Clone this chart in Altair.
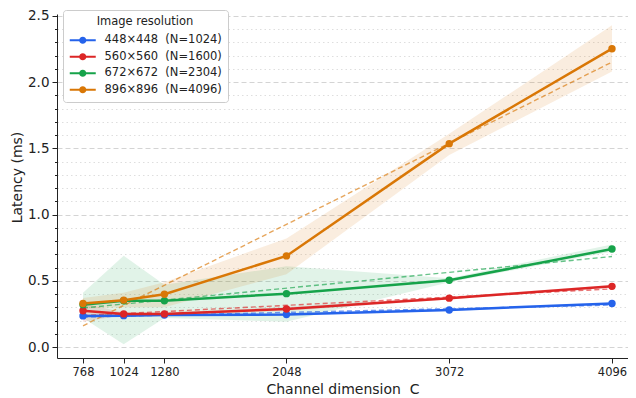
import altair as alt
import pandas as pd

# ---- data ----
channels = [768, 1024, 1280, 2048, 3072, 4096]
resolutions = [
    "448×448\u00a0\u00a0(N=1024)",
    "560×560\u00a0\u00a0(N=1600)",
    "672×672\u00a0\u00a0(N=2304)",
    "896×896\u00a0\u00a0(N=4096)",
]
lat_448 = [0.235, 0.237, 0.242, 0.245, 0.280, 0.329]
lat_560 = [0.274, 0.250, 0.250, 0.287, 0.369, 0.458]
lat_672 = [0.320, 0.350, 0.349, 0.403, 0.504, 0.740]
lat_896 = [0.329, 0.354, 0.398, 0.688, 1.536, 2.253]

lo_448 = [0.222, 0.229, 0.234, 0.237, 0.272, 0.321]
hi_448 = [0.248, 0.245, 0.250, 0.253, 0.288, 0.337]
lo_560 = [0.190, 0.240, 0.240, 0.272, 0.359, 0.448]
hi_560 = [0.330, 0.260, 0.260, 0.302, 0.379, 0.468]
lo_672 = [0.220, 0.020, 0.220, 0.190, 0.490, 0.720]
hi_672 = [0.410, 0.690, 0.470, 0.610, 0.520, 0.775]
lo_896 = [0.290, 0.300, 0.300, 0.550, 1.450, 2.080]
hi_896 = [0.370, 0.410, 0.490, 0.820, 1.610, 2.430]

colors = ["#2563eb", "#dc2626", "#16a34a", "#d97706"]

lat_all = [lat_448, lat_560, lat_672, lat_896]
lo_all = [lo_448, lo_560, lo_672, lo_896]
hi_all = [hi_448, hi_560, hi_672, hi_896]

rows = []
for k, res in enumerate(resolutions):
    for i, c in enumerate(channels):
        rows.append({"C": c, "res": res, "order": k,
                     "lat": lat_all[k][i], "lo": lo_all[k][i], "hi": hi_all[k][i]})
df = pd.DataFrame(rows)

FONT = "DejaVu Sans"
y_values = [round(i * 0.1, 1) for i in range(26)]
major_test = "abs(datum.value*2 - round(datum.value*2)) < 0.001"

x_enc = alt.X(
    "C:Q",
    scale=alt.Scale(domain=[604.4, 4196.7], nice=False, zero=False),
    axis=alt.Axis(
        values=channels, title="Channel dimension\u00a0\u00a0C", grid=False,
        labelFontSize=11.5, titleFontSize=14, tickSize=5, labelPadding=3,
        titlePadding=5, labelFlush=False, labelOverlap=False, format="d",
        domainColor="#222222", tickColor="#222222",
    ),
)

y_axis = alt.Axis(
    values=y_values, title="Latency (ms)",
    labelExpr=f"{major_test} ? format(datum.value, '.1f') : ''",
    labelFontSize=13.5, titleFontSize=14, labelPadding=3, titlePadding=3,
    titleY=163,
    labelFlush=False, labelOverlap=False,
    tickSize={"condition": {"test": major_test, "value": 5}, "value": 2.5},
    gridDash={"condition": {"test": major_test, "value": [5, 3]}, "value": [1.5, 3]},
    gridColor={"condition": {"test": major_test, "value": "#d4d4d4"}, "value": "#dedede"},
    gridWidth=1, domainColor="#222222", tickColor="#222222",
)
y_scale = alt.Scale(domain=[-0.083, 2.515], nice=False, zero=False)
y_enc = alt.Y("lat:Q", scale=y_scale, axis=y_axis)

color_scale = alt.Scale(domain=resolutions, range=colors)

SYMBOL = ("M-2.6,-0.22H2.6V0.22H-2.6Z "
          "M0.72,0A0.72,0.72,0,1,1,-0.72,0A0.72,0.72,0,1,1,0.72,0Z")

legend = alt.Legend(
    title="Image resolution", orient="none", legendX=6, legendY=-4,
    symbolType=SYMBOL, symbolSize=100, symbolStrokeWidth=0, symbolOpacity=1,
    symbolOffset=8, labelOffset=16, labelFontSize=11.5, titleFontSize=11.5,
    titleFontWeight="normal", titleAnchor="middle", titlePadding=7,
    labelFont=FONT, titleFont=FONT, labelColor="#222222", titleColor="#222222",
    strokeColor="#cccccc", fillColor="white", padding=6, cornerRadius=3,
    rowPadding=3.5,
)
color_enc = alt.Color("res:N", scale=color_scale, legend=legend)

base = alt.Chart(df)

band = base.mark_area(opacity=0.13).encode(
    x=x_enc,
    y=alt.Y("lo:Q", scale=y_scale, axis=y_axis),
    y2="hi:Q",
    color=color_enc,
)

reg = base.transform_regression(
    "C", "lat", groupby=["res"]
).mark_line(strokeDash=[5, 3], strokeWidth=1.4, opacity=0.65).encode(
    x=x_enc, y=y_enc, color=color_enc,
)

line = base.mark_line(strokeWidth=2.5).encode(
    x=x_enc, y=y_enc, color=color_enc,
)

pts = base.mark_circle(size=55, opacity=1).encode(
    x=x_enc, y=y_enc, color=color_enc,
)

chart = alt.layer(band, reg, line, pts).properties(
    width=571, height=344,
    autosize=alt.AutoSizeParams(type="none"),
    padding={"left": 49, "top": 6, "right": 0, "bottom": 40},
).configure_view(stroke=None).configure_axis(
    labelFont=FONT, titleFont=FONT, labelColor="#222222", titleColor="#222222",
    titleFontWeight="normal",
).configure_axisX(domainWidth=1).configure_axisY(domainWidth=1)

chart.save("out.html", embed_options={"renderer": "svg", "actions": False})
